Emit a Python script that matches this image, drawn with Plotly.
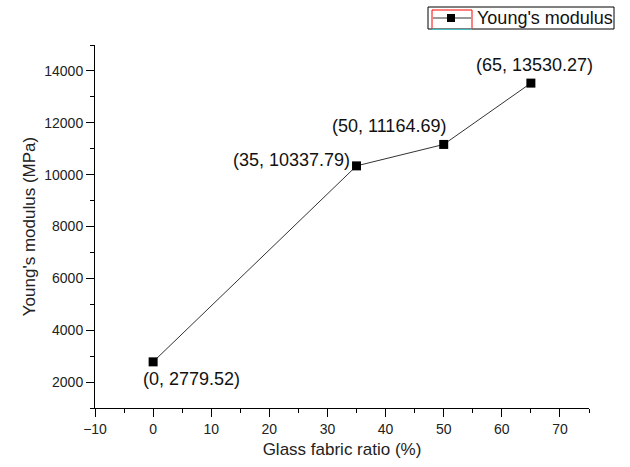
import plotly.graph_objects as go

x_vals = [0, 35, 50, 65]
y_vals = [2779.52, 10337.79, 11164.69, 13530.27]
series_name = "Young's modulus"
x_ticks = [-10, 0, 10, 20, 30, 40, 50, 60, 70]
y_ticks = [2000, 4000, 6000, 8000, 10000, 12000, 14000]

labels = [f"({x}, {y:.2f})" for x, y in zip(x_vals, y_vals)]
# pixel offsets of each label from its point (style, not data)
label_shift = [(38, -17), (-65, 6), (-55, 18), (4, 18)]

FONT = "Arial, Liberation Sans, sans-serif"
W, H = 630, 467
ML, MR, MT, MB = 95, 41, 45, 59
PW, PH = W - ML - MR, H - MT - MB


def px(xp):
    return (xp - ML) / PW


def py(yp):
    return (H - MB - yp) / PH


fig = go.Figure()
fig.add_trace(go.Scatter(
    x=x_vals, y=y_vals, mode="lines+markers", name=series_name,
    line=dict(color="#333333", width=1),
    marker=dict(symbol="square", size=9, color="black"),
    showlegend=False,
))

for x, y, t, (dx, dy) in zip(x_vals, y_vals, labels, label_shift):
    fig.add_annotation(x=x, y=y, text=t, showarrow=False, xshift=dx, yshift=dy,
                       font=dict(family=FONT, size=18, color="#111111"))

# hand-drawn legend box (paper coordinates)
shapes = [
    dict(type="rect", xref="paper", yref="paper", x0=px(428), x1=px(614), y0=py(29), y1=py(7),
         line=dict(color="black", width=1), fillcolor="white", layer="above"),
    dict(type="rect", xref="paper", yref="paper", x0=px(432), x1=px(472), y0=py(28.5), y1=py(10),
         line=dict(color="red", width=1), layer="above"),
    dict(type="line", xref="paper", yref="paper", x0=px(432), x1=px(472), y0=py(29), y1=py(29),
         line=dict(color="cyan", width=1), layer="above"),
    dict(type="line", xref="paper", yref="paper", x0=px(433), x1=px(471), y0=py(18), y1=py(18),
         line=dict(color="#333333", width=1), layer="above"),
    dict(type="rect", xref="paper", yref="paper", x0=px(447), x1=px(455), y0=py(22), y1=py(14),
         line=dict(color="black", width=0), fillcolor="black", layer="above"),
]
fig.add_annotation(xref="paper", yref="paper", x=px(475), y=py(18), xanchor="left",
                   yanchor="middle", text=series_name, showarrow=False,
                   font=dict(family=FONT, size=18, color="#111111"))

axis_common = dict(
    showgrid=False, zeroline=False, showline=True, linecolor="black", linewidth=1,
    ticks="outside", ticklen=8, tickcolor="black", automargin=False,
    tickformat="d",
    tickfont=dict(family=FONT, size=14, color="#222222"),
)

fig.update_layout(
    width=W, height=H,
    margin=dict(l=ML, r=MR, t=MT, b=MB, autoexpand=False),
    plot_bgcolor="white", paper_bgcolor="white",
    font=dict(family=FONT, color="#222222"),
    shapes=shapes,
    xaxis=dict(axis_common, range=[-10, 75], tickvals=x_ticks,
               minor=dict(ticks="outside", ticklen=4, tickcolor="black", dtick=5, tick0=0),
               title=dict(text="Glass fabric ratio (%)", font=dict(size=17), standoff=7)),
    yaxis=dict(axis_common, range=[1000, 15000], tickvals=y_ticks,
               minor=dict(ticks="outside", ticklen=4, tickcolor="black", dtick=1000, tick0=0),
               title=dict(text="Young's modulus (MPa)", font=dict(size=17), standoff=4)),
    showlegend=False,
)

fig.write_html(
    "out.html",
    config={"displayModeBar": False},
    post_script="document.body.style.margin='0';document.body.style.overflow='hidden';",
)
